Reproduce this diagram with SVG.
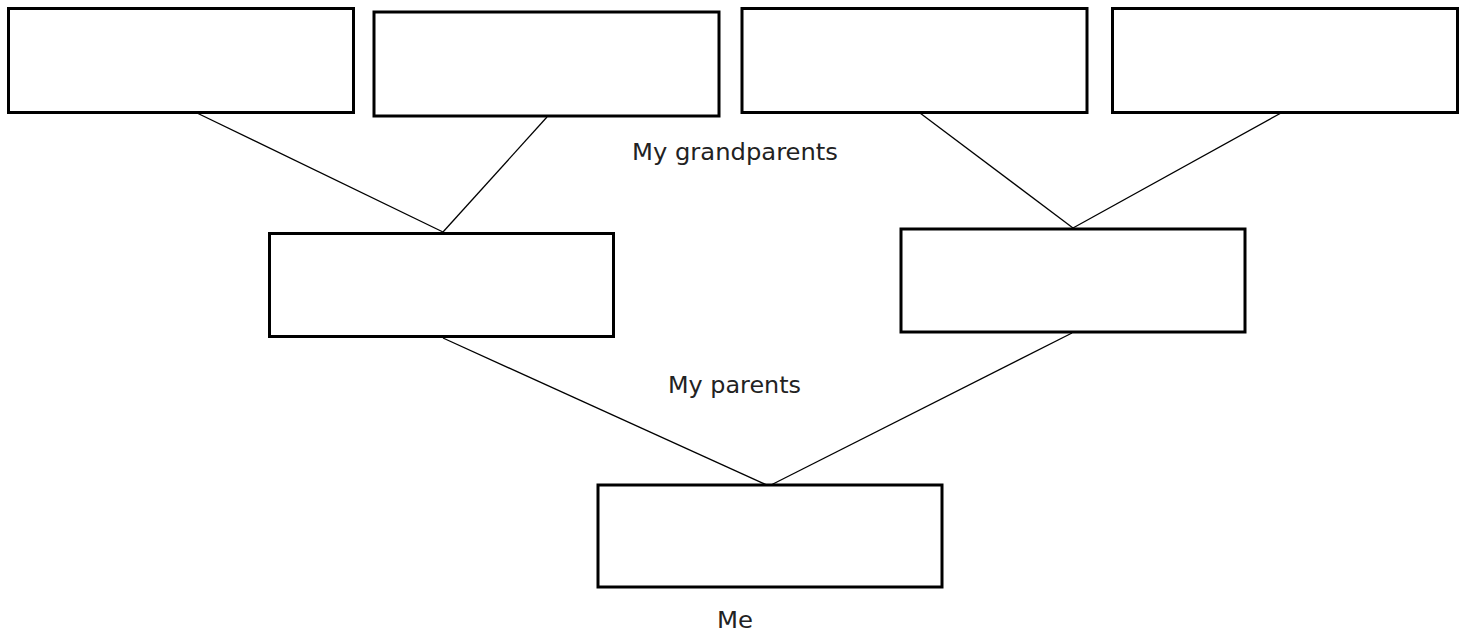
<svg xmlns="http://www.w3.org/2000/svg" width="1465" height="634" viewBox="0 0 1465 634">
<style>
.box{fill:#fff;stroke:#000;stroke-width:3}
.ln{stroke:#000;stroke-width:1.3;fill:none}
.lbl{font-family:"DejaVu Sans","Liberation Sans",sans-serif;font-size:22.5px;fill:#222;text-anchor:middle}
</style>
<rect width="1465" height="634" fill="#fff"/>
<g id="connectors">
<line class="ln" x1="197" y1="113" x2="443" y2="232"/>
<line class="ln" x1="547" y1="117" x2="443" y2="232"/>
<line class="ln" x1="920" y1="113" x2="1073" y2="228"/>
<line class="ln" x1="1281" y1="113" x2="1073" y2="228"/>
<line class="ln" x1="443" y1="338" x2="769" y2="486"/>
<line class="ln" x1="1072" y1="333" x2="769" y2="486"/>
</g>
<g id="gp1"><rect class="box" x="8.5" y="8.5" width="345" height="104"/></g>
<g id="gp2"><rect class="box" x="374" y="12" width="345" height="104"/></g>
<g id="gp3"><rect class="box" x="742" y="8.5" width="345" height="104"/></g>
<g id="gp4"><rect class="box" x="1112.5" y="8.5" width="345" height="104"/></g>
<g id="p1"><rect class="box" x="269.5" y="233.5" width="344" height="103"/></g>
<g id="p2"><rect class="box" x="901" y="229" width="344" height="103"/></g>
<g id="me"><rect class="box" x="598" y="485" width="344" height="102"/></g>
<g id="labels">
<text class="lbl" x="735" y="160" textLength="206" lengthAdjust="spacingAndGlyphs">My grandparents</text>
<text class="lbl" x="734.5" y="393" textLength="133" lengthAdjust="spacingAndGlyphs">My parents</text>
<text class="lbl" x="735" y="628" textLength="36" lengthAdjust="spacingAndGlyphs">Me</text>
</g>
</svg>
